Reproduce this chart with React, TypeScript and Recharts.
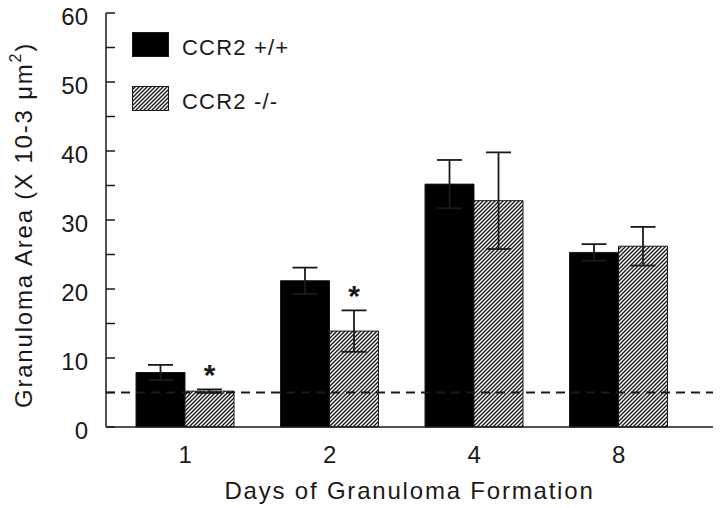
import { BarChart, Bar, XAxis, YAxis, ErrorBar, ReferenceLine, Legend, Label, LabelList } from 'recharts';

const days = ['1', '2', '4', '8'];
const wildType = [7.9, 21.2, 35.2, 25.3];
const wildTypeErr = [1.1, 1.9, 3.5, 1.2];
const knockout = [5.2, 13.9, 32.8, 26.2];
const knockoutErr = [0.25, 3.0, 7.0, 2.8];
const significant = ['*', '*', '', ''];
const yTicks = [0, 5, 10, 15, 20, 25, 30, 35, 40, 45, 50, 55, 60];
const baselineArea = 5;

const data = days.map((day, i) => ({
  day,
  wt: wildType[i],
  wtErr: wildTypeErr[i],
  ko: knockout[i],
  koErr: knockoutErr[i],
  sig: significant[i],
}));

const FONT = "'Liberation Sans', Arial, Helvetica, sans-serif";
const INK = '#1a1a1a';
const TICK_GAP = 18;

function YTick(props: any) {
  const { x, y, payload } = props;
  const axisX = x + TICK_GAP;
  return (
    <g>
      <line x1={axisX} y1={y} x2={axisX + 9} y2={y} stroke={INK} strokeWidth={1.5} />
      {payload.value % 10 === 0 && (
        <text x={x} y={y} dy={12} textAnchor="end" fontSize={24} fill={INK} fontFamily={FONT}>
          {payload.value}
        </text>
      )}
    </g>
  );
}

function YTitle(props: any) {
  const { viewBox } = props;
  const cx = 32;
  const cy = viewBox.y + viewBox.height / 2 + 5;
  return (
    <text
      x={cx}
      y={cy}
      transform={`rotate(-90, ${cx}, ${cy})`}
      textAnchor="middle"
      fontSize={24}
      letterSpacing={1.8}
      fill={INK}
      fontFamily={FONT}
    >
      Granuloma Area (X 10-3 μm
      <tspan fontSize={16} dy={-11}>2</tspan>
      <tspan dy={11}>)</tspan>
    </text>
  );
}

function Star(props: any) {
  const { x, y, width, height, value, index } = props;
  if (!value) return null;
  const perUnit = height / knockout[index];
  const capY = y - knockoutErr[index] * perUnit;
  return (
    <text x={x + width / 2} y={capY - 4} textAnchor="middle" fontSize={30} fontWeight="bold" fill={INK} fontFamily={FONT}>
      {value}
    </text>
  );
}

function LegendBox(props: any) {
  const { payload } = props;
  return (
    <div style={{ fontFamily: FONT, fontSize: 22, color: INK, letterSpacing: 1.2 }}>
      {payload.map((entry: any) => (
        <div key={entry.value} style={{ display: 'flex', alignItems: 'center', height: 25, marginBottom: 29 }}>
          <svg width={37} height={25} style={{ display: 'block' }}>
            <rect x={0.5} y={0.5} width={36} height={24} fill={entry.color} stroke={INK} strokeWidth={1} />
          </svg>
          <span style={{ marginLeft: 13, lineHeight: '25px', position: 'relative', top: 3 }}>{entry.value}</span>
        </div>
      ))}
    </div>
  );
}

export default function App() {
  return (
    <div style={{ position: 'absolute', left: 0, top: 0, width: 720, height: 508, background: '#fff' }}>
      <BarChart
        width={720}
        height={508}
        data={data}
        margin={{ top: 13, right: 7, bottom: 0, left: 0 }}
        barCategoryGap={23}
        barGap={0}
      >
        <defs>
          <pattern id="hatch" patternUnits="userSpaceOnUse" width={4} height={4}>
            <rect width={4} height={4} fill="#fff" />
            <path d="M-1,1 L1,-1 M0,4 L4,0 M3,5 L5,3" stroke={INK} strokeWidth={1.4} />
          </pattern>
        </defs>
        <XAxis
          dataKey="day"
          height={81}
          padding={{ left: 7, right: 22 }}
          tickLine={false}
          tickSize={0}
          tickMargin={19}
          axisLine={{ stroke: INK, strokeWidth: 1.5 }}
          tick={{ fontSize: 24, fill: INK, fontFamily: FONT }}
        >
          <Label
            value="Days of Granuloma Formation"
            position="insideBottom"
            offset={9}
            fontSize={24}
            letterSpacing={1.8}
            fill={INK}
            fontFamily={FONT}
          />
        </XAxis>
        <XAxis xAxisId="top" dataKey="day" orientation="top" height={0} tick={false} tickLine={false} axisLine={{ stroke: INK, strokeWidth: 1.5 }} />
        <YAxis
          width={106}
          domain={[0, 60]}
          ticks={yTicks}
          interval={0}
          tickLine={false}
          tickSize={0}
          tickMargin={TICK_GAP}
          axisLine={{ stroke: INK, strokeWidth: 1.5 }}
          tick={<YTick />}
        >
          <Label content={<YTitle />} />
        </YAxis>
        <YAxis yAxisId="right" orientation="right" width={0} domain={[0, 60]} tick={false} tickLine={false} axisLine={{ stroke: INK, strokeWidth: 1.5 }} />
        <Legend
          layout="horizontal"
          verticalAlign="middle"
          align="center"
          content={<LegendBox />}
          wrapperStyle={{ left: 132, top: 32, width: 'auto', height: 'auto' }}
        />
        <Bar dataKey="wt" name="CCR2 +/+" fill="#000" stroke={INK} strokeWidth={1} isAnimationActive={false}>
          <ErrorBar dataKey="wtErr" width={12.5} stroke={INK} strokeWidth={1.8} />
        </Bar>
        <Bar dataKey="ko" name="CCR2 -/-" fill="url(#hatch)" stroke={INK} strokeWidth={1} isAnimationActive={false}>
          <ErrorBar dataKey="koErr" width={12.5} stroke={INK} strokeWidth={1.8} />
          <LabelList dataKey="sig" content={<Star />} />
        </Bar>
        <ReferenceLine y={baselineArea} stroke={INK} strokeWidth={2} strokeDasharray="9 6" />
      </BarChart>
    </div>
  );
}
